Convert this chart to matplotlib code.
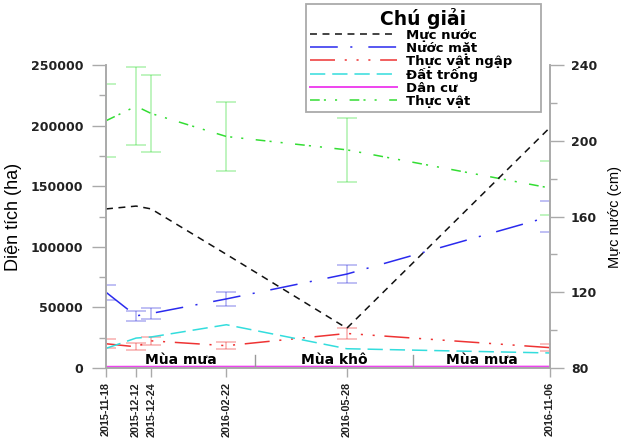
import matplotlib

matplotlib.use("Agg")
import matplotlib.pyplot as plt
import pandas as pd
from matplotlib.lines import Line2D

plt.rcParams["lines.scale_dashes"] = False

# survey dates
dates = pd.to_datetime(
    ["2015-11-18", "2015-12-12", "2015-12-24", "2016-02-22", "2016-05-28", "2016-11-06"]
)
date_labels = [d.strftime("%Y-%m-%d") for d in dates]

# water level (cm), right axis
water_level = [164, 165.5, 164, 140, 101, 207]

# areas (ha), left axis
surface_water = [62500, 43000, 45000, 57000, 77500, 125000]
surface_water_err = [6000, 4000, 4500, 5500, 7500, 12500]
flooded_veg = [20000, 17500, 22400, 18400, 28500, 16800]
flooded_veg_err = [3700, 3000, 3200, 2700, 4500, 3000]
bare_soil = [16200, 24700, 25600, 35700, 15900, 12400]
residential = [900, 950, 950, 1000, 1000, 1050]
vegetation = [204000, 216000, 210000, 191000, 180000, 148500]
vegetation_err = [30000, 32000, 32000, 28500, 26500, 22000]

seasons = ["Mùa mưa", "Mùa khô", "Mùa mưa"]
season_breaks = pd.to_datetime(["2016-03-16", "2016-07-20"])

fig = plt.figure(figsize=(6.26, 4.44), dpi=100)
ax = fig.add_axes([106 / 626, 1 - 368 / 444, 444 / 626, 303 / 444])
ax2 = ax.twinx()

lw = 1.1
err_kw = dict(capsize=7, elinewidth=1.1, capthick=1.1, fmt="none", alpha=0.4)

ax.errorbar(dates, vegetation, yerr=vegetation_err, ecolor="#33dd33", **err_kw)
ax.errorbar(dates, surface_water, yerr=surface_water_err, ecolor="#3333dd", **err_kw)
ax.errorbar(dates, flooded_veg, yerr=flooded_veg_err, ecolor="#ee3333", **err_kw)

styles = {
    "Mực nước": dict(color="#111111", dashes=(5, 4)),
    "Nước mặt": dict(color="#2a2aee", dashes=(20, 9, 1.5, 11.5)),
    "Thực vật ngập": dict(color="#ee3333", dashes=(18, 7, 1.5, 7, 1.5, 7, 1.5, 7)),
    "Đất trống": dict(color="#33dddd", dashes=(11, 5)),
    "Dân cư": dict(color="#ee44ee", linestyle="-"),
    "Thực vật": dict(color="#33dd33", dashes=(7, 3, 1.5, 6.5, 1.5, 9)),
}

ax.plot(dates, surface_water, lw=lw, **styles["Nước mặt"])
ax.plot(dates, flooded_veg, lw=lw, **styles["Thực vật ngập"])
ax.plot(dates, bare_soil, lw=lw, **styles["Đất trống"])
ax.plot(dates, residential, lw=1.6, **styles["Dân cư"])
ax.plot(dates, vegetation, lw=lw, **styles["Thực vật"])
ax2.plot(dates, water_level, lw=lw, **styles["Mực nước"])

# season separators and labels
for b in season_breaks:
    ax.plot([b, b], [0, 10700], color="#999999", lw=1)
edges = [dates[0]] + list(season_breaks) + [dates[-1]]
for name, a, b in zip(seasons, edges[:-1], edges[1:]):
    ax.text(a + (b - a) / 2, 6300, name, ha="center", va="center",
            fontsize=10, fontweight="bold", family="DejaVu Sans")

ax.set_xlim(dates[0], dates[-1])
ax.set_ylim(0, 250000)
ax2.set_ylim(80, 240)

ax.set_xticks(dates)
ax.set_xticklabels(date_labels, rotation=90, fontsize=7.8, fontweight="bold",
                   family="Liberation Sans", color="#222222")
ax.set_yticks(range(0, 250001, 50000))
ax.set_yticks(range(0, 250001, 25000), minor=True)
ax2.set_yticks(range(80, 241, 40))
ax2.set_yticks(range(80, 241, 20), minor=True)
for lab in ax.get_yticklabels() + ax2.get_yticklabels():
    lab.set_fontweight("bold")
    lab.set_fontsize(9)
    lab.set_family("DejaVu Sans")
    lab.set_color("#222222")

spine_c = "#aaaaaa"
for a in (ax, ax2):
    for s in a.spines.values():
        s.set_color(spine_c)
        s.set_linewidth(1.2)
    a.spines["top"].set_visible(False)
ax.tick_params(axis="y", which="major", length=10, width=1, color=spine_c, pad=6.5)
ax.tick_params(axis="y", which="minor", length=5, width=1, color=spine_c)
ax2.tick_params(axis="y", which="major", length=10, width=1, color=spine_c, pad=5)
ax2.tick_params(axis="y", which="minor", length=5, width=1, color=spine_c)
ax.tick_params(axis="x", length=6.5, width=1, color=spine_c, pad=3.5)

ax.set_ylabel("Diện tích (ha)", fontsize=13, family="Liberation Sans", labelpad=6)
ax2.set_ylabel("Mực nước (cm)", fontsize=10.5, family="Liberation Sans", labelpad=8)

handles = [Line2D([], [], lw=1.4 if k == "Dân cư" else lw, **v) for k, v in styles.items()]
leg = fig.legend(
    handles, list(styles.keys()),
    loc="upper left",
    bbox_to_anchor=(306 / 626, 1 - 4 / 444, 235 / 626, 0),
    bbox_transform=fig.transFigure,
    mode="expand",
    title="Chú giải",
    title_fontproperties={"size": 13.5, "weight": "bold", "family": "DejaVu Sans"},
    prop={"size": 9.5, "weight": "bold", "family": "DejaVu Sans"},
    handlelength=6.6,
    handletextpad=0.7,
    labelspacing=0.0,
    borderpad=0.3,
    borderaxespad=0,
    fancybox=False,
    framealpha=1,
    edgecolor="#aaaaaa",
)
leg.get_frame().set_linewidth(1.3)

fig.savefig("out.png", dpi=100)
